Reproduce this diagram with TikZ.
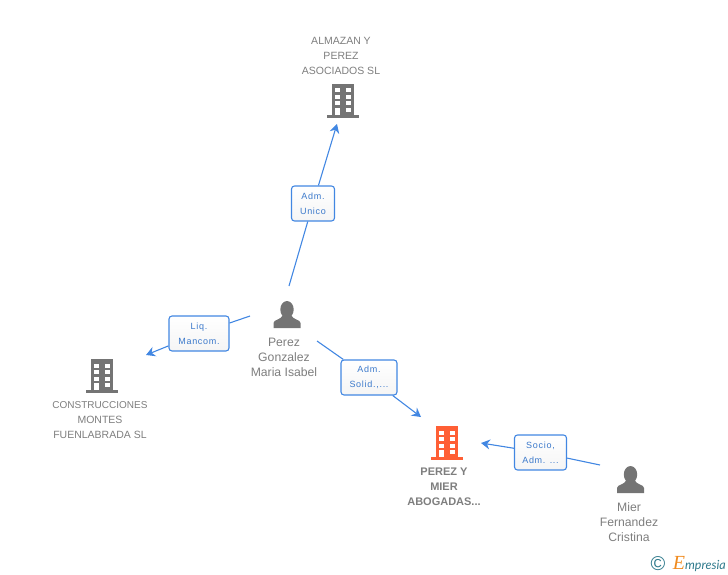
\documentclass[tikz,border=0pt]{standalone}
\usepackage{fontspec}
\setmainfont{Liberation Sans}
\newfontfamily\relfont[LetterSpace=8]{Liberation Sans}
\newfontfamily\logofont{Liberation Serif}
\newfontfamily\logosans{Lato}
\usetikzlibrary{arrows.meta}
\definecolor{iconGray}{HTML}{747474}
\definecolor{textGray}{HTML}{7E7E7E}
\definecolor{relBlue}{HTML}{4287E2}
\definecolor{hotOrange}{HTML}{FF5F35}
\definecolor{logoTeal}{HTML}{2F7A8C}
\definecolor{logoOrange}{HTML}{F08A1D}

\begin{document}
\begin{tikzpicture}[
  x=1pt, y=-1pt,
  entity/.style={font=\fontsize{10.5}{15}\selectfont, text=textGray, align=center, inner sep=0pt},
  persona/.style={entity, font=\fontsize{12.2}{15}\selectfont},
  hotentity/.style={entity, font=\fontsize{11}{15}\selectfont\bfseries},
  relbox/.style={draw=relBlue, line width=1.1pt, rounded corners=3pt, top color=white, bottom color=black!4,
    text=relBlue!90!black, font=\relfont\fontsize{9}{15}\selectfont, align=center, inner sep=0pt, minimum height=35pt},
  link/.style={draw=relBlue, line width=1.1pt},
  linkto/.style={link, -{Stealth[length=9pt,width=10pt,inset=3pt]}},
  building/.pic={
    \fill[pic actions] (-11,-17) rectangle (11,14);
    \fill[pic actions] (-16,14) rectangle (16,17);
    \foreach \wy in {-12.5,-6,0.5} {
      \fill[white] (-8,\wy) rectangle (-3,\wy+4);
      \fill[white] (2.5,\wy) rectangle (7.5,\wy+4);
    }
    \fill[white] (-8,7) rectangle (-3,14);
    \fill[white] (2.5,7) rectangle (7.5,11);
  },
  person/.pic={
    \fill[pic actions] (0,-5.5) ellipse (6.7 and 8.5);
    \fill[pic actions] (-13.5,13) -- (-13.5,8) .. controls (-13.5,4.5) and (-6,5) .. (-4,0)
      -- (4,0) .. controls (6,5) and (13.5,4.5) .. (13.5,8) -- (13.5,13) -- cycle;
  },
]
\useasboundingbox (0,0) rectangle (728,575);

% ─── Companies ───
\pic[iconGray] (almazan) at (343,101) {building};
\node[entity] (almazanname) at (341,55.5) {ALMAZAN Y\\PEREZ\\ASOCIADOS SL};
\pic[iconGray] (montes) at (102,376) {building};
\node[entity] (montesname) at (100,420.5) {\fontsize{10}{15}\selectfont CONSTRUCCIONES\\MONTES\\FUENLABRADA SL};
\pic[hotOrange] (abogados) at (447,443) {building};
\node[hotentity] (abogadosname) at (444,487) {PEREZ Y\\MIER\\ABOGADAS...};

% ─── People ───
\pic[iconGray] (isabel) at (287,315) {person};
\node[persona] (isabelname) at (284,357) {Perez\\Gonzalez\\Maria Isabel};
\pic[iconGray] (cristina) at (630.5,480) {person};
\node[persona] (cristinaname) at (629,522) {Mier\\Fernandez\\Cristina};

% ─── Relations ───
\node[relbox, minimum width=43pt] (unico) at (313,203.5) {Adm.\\Unico};
\node[relbox, minimum width=60pt] (mancom) at (199,333.5) {Liq.\\Mancom.};
\node[relbox, minimum width=56pt] (solid) at (369,377.5) {Adm.\\Solid.,...};
\node[relbox, minimum width=52pt] (socio) at (540.5,452.5) {Socio,\\Adm. ...};

\coordinate (unicofrom) at (289,286);
\coordinate (unicoto) at (337,124);
\coordinate (mancomfrom) at (250,316);
\coordinate (mancomto) at (146,355);
\coordinate (solidfrom) at (317,341);
\coordinate (solidto) at (421,417);
\coordinate (sociofrom) at (600,465);
\coordinate (socioto) at (481,443);

\draw[link] (unicofrom) -- (unico);
\draw[linkto] (unico) -- (unicoto);
\draw[link] (mancomfrom) -- (mancom);
\draw[linkto] (mancom) -- (mancomto);
\draw[link] (solidfrom) -- (solid);
\draw[linkto] (solid) -- (solidto);
\draw[link] (sociofrom) -- (socio);
\draw[linkto] (socio) -- (socioto);

% ─── Logo ───
\node[font=\fontsize{20}{20}\selectfont, text=logoTeal, inner sep=0pt] (copy) at (658,564) {\textcopyright};
\node[font=\logosans\itshape\fontsize{12.5}{15}\selectfont, text=logoTeal, inner sep=0pt, anchor=east] (logo) at (726,564)
  {\textcolor{logoOrange}{\logofont\itshape\fontsize{20}{15}\selectfont E}mpresia};
\end{tikzpicture}
\end{document}
